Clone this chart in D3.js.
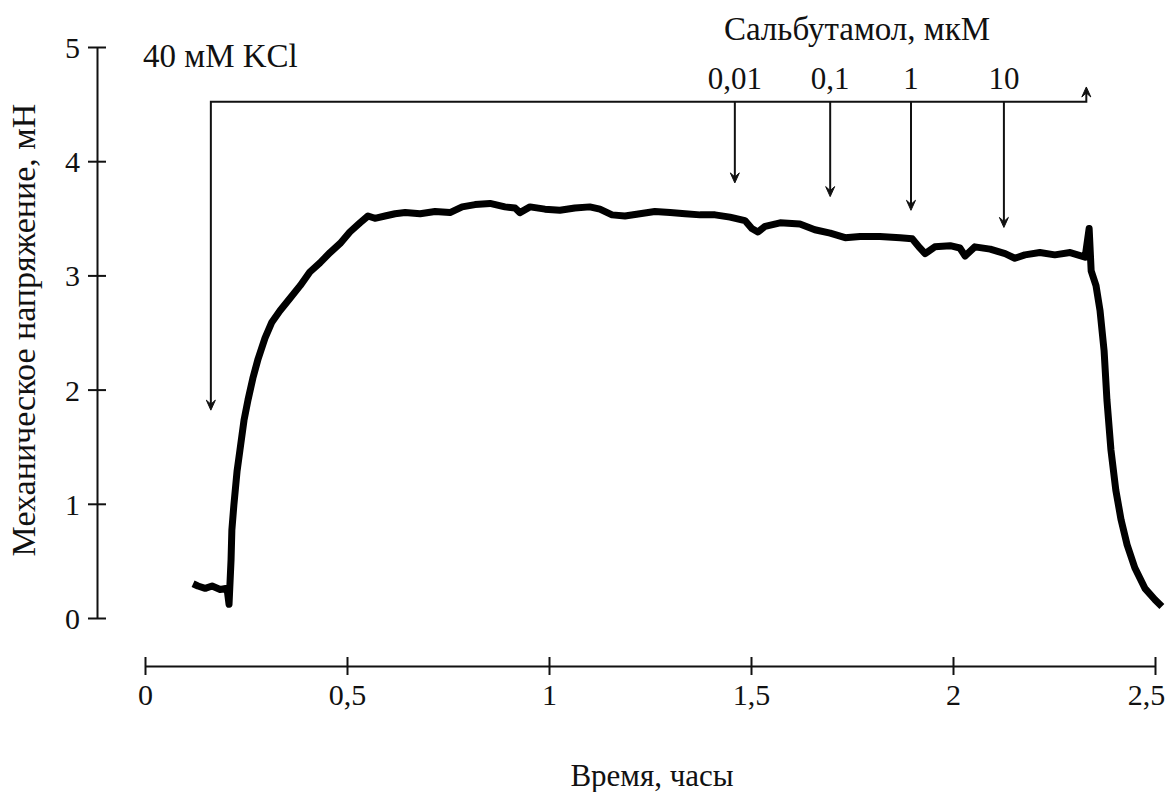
<!DOCTYPE html>
<html lang="ru">
  <head>
    <meta charset="UTF-8" />
    <title>Сальбутамол, KCl</title>
    <script src="https://d3js.org/d3.v7.min.js"></script>
    <style>
      body {
        margin: 0;
        background: #fff;
      }
      svg {
        display: block;
        font-family: "Liberation Serif", "DejaVu Serif", serif;
      }
      .axis path,
      .axis line {
        stroke: #111;
        stroke-width: 2;
      }
      .axis text {
        font-size: 30px;
        fill: #111;
        font-family: "Liberation Serif", serif;
      }
      .label {
        font-size: 33px;
        fill: #111;
      }
    </style>
  </head>
  <body>
    <svg width="1173" height="792"></svg>
    <script>
      // время, часы
      const timeH = [
        0.119, 0.131, 0.149, 0.166, 0.186, 0.203, 0.208, 0.213, 0.215, 0.22,
        0.228, 0.235, 0.245, 0.255, 0.267, 0.28, 0.297, 0.314, 0.334, 0.359,
        0.384, 0.408, 0.433, 0.458, 0.483, 0.507, 0.532, 0.552, 0.569, 0.594,
        0.619, 0.644, 0.681, 0.718, 0.755, 0.785, 0.817, 0.854, 0.891, 0.916,
        0.928, 0.953, 0.99, 1.027, 1.064, 1.101, 1.126, 1.156, 1.188, 1.225,
        1.262, 1.3, 1.337, 1.374, 1.411, 1.448, 1.485, 1.502, 1.517, 1.535,
        1.572, 1.621, 1.658, 1.696, 1.733, 1.77, 1.819, 1.869, 1.899, 1.918,
        1.931, 1.955, 1.993, 2.017, 2.03, 2.054, 2.092, 2.129, 2.153, 2.178,
        2.215, 2.252, 2.29, 2.327, 2.337, 2.342, 2.354, 2.364, 2.374, 2.381,
        2.391, 2.403, 2.416, 2.431, 2.45, 2.475, 2.5, 2.517
      ];
      // механическое напряжение, мН
      const tension = [
        0.3, 0.28, 0.26, 0.28, 0.25, 0.26, 0.12, 0.51, 0.77, 0.99,
        1.29, 1.47, 1.73, 1.91, 2.1, 2.27, 2.45, 2.59, 2.69, 2.8,
        2.91, 3.03, 3.11, 3.2, 3.28, 3.38, 3.46, 3.52, 3.5, 3.52,
        3.54, 3.55, 3.54, 3.56, 3.55, 3.6, 3.62, 3.63, 3.6, 3.59,
        3.55, 3.6, 3.58, 3.57, 3.59, 3.6, 3.58, 3.53, 3.52, 3.54,
        3.56, 3.55, 3.54, 3.53, 3.53, 3.51, 3.48, 3.41, 3.38, 3.43,
        3.46, 3.45, 3.4, 3.37, 3.33, 3.34, 3.34, 3.33, 3.32, 3.24,
        3.19, 3.25, 3.26, 3.24, 3.17, 3.25, 3.23, 3.19, 3.15, 3.18,
        3.2, 3.18, 3.2, 3.16, 3.41, 3.04, 2.91, 2.69, 2.34, 1.91,
        1.47, 1.12, 0.86, 0.64, 0.44, 0.26, 0.16, 0.1
      ];

      // добавки сальбутамола
      const doseLabels = ["0,01", "0,1", "1", "10"];
      const doseTimes = [1.46, 1.696, 1.896, 2.126];
      const doseTips = [3.81, 3.69, 3.57, 3.42];

      // KCl
      const kclTime = 0.163;
      const kclTip = 1.82;
      const bracketLevel = 4.52;
      const washTime = 2.33;
      const washTop = 4.65;

      const xTicks = [0, 0.5, 1, 1.5, 2, 2.5];
      const xTickLabels = ["0", "0,5", "1", "1,5", "2", "2,5"];
      const yTicks = [0, 1, 2, 3, 4, 5];

      const svg = d3.select("svg");

      const x = d3.scaleLinear().domain([0, 2.5]).range([145, 1155]);
      const y = d3.scaleLinear().domain([0, 5]).range([618, 47]);

      // Y axis
      const yAxis = svg
        .append("g")
        .attr("class", "axis")
        .attr("transform", "translate(97,0)")
        .call(
          d3
            .axisLeft(y)
            .tickValues(yTicks)
            .tickFormat(d3.format("d"))
            .tickSize(9)
            .tickSizeOuter(0)
        );
      yAxis.selectAll(".tick line").attr("x1", 9);
      yAxis.selectAll(".tick text").attr("x", -17).attr("dy", "0.35em");

      // X axis (separate line below)
      const xAxis = svg
        .append("g")
        .attr("class", "axis")
        .attr("transform", "translate(0,666)")
        .call(
          d3
            .axisBottom(x)
            .tickValues(xTicks)
            .tickFormat((d, i) => xTickLabels[i])
            .tickSize(9)
            .tickSizeOuter(0)
        );
      xAxis.selectAll(".tick line").attr("y1", -9);
      xAxis
        .selectAll(".tick text")
        .attr("y", 39)
        .attr("dy", 0)
        .attr("dx", (d) => (d === 2.5 ? -9 : 0));

      // Axis titles
      svg
        .append("text")
        .attr("class", "label")
        .style("font-size", "34px")
        .attr("transform", "translate(35,330) rotate(-90)")
        .attr("text-anchor", "middle")
        .text("Механическое напряжение, мН");

      svg
        .append("text")
        .attr("class", "label")
        .style("font-size", "31px")
        .attr("x", 652)
        .attr("y", 786)
        .attr("text-anchor", "middle")
        .text("Время, часы");

      // Trace
      const line = d3
        .line()
        .x((d, i) => x(timeH[i]))
        .y((d) => y(d));

      svg
        .append("path")
        .datum(tension)
        .attr("d", line)
        .attr("fill", "none")
        .attr("stroke", "#000")
        .attr("stroke-width", 7)
        .attr("stroke-linejoin", "round");

      // arrowhead helper
      function head(px, py, dir) {
        // dir = 1 down, -1 up
        const h = 10 * dir;
        return `M${px},${py} L${px - 4.5},${py - h} L${px},${py - h * 0.6} L${px + 4.5},${py - h} Z`;
      }

      const ann = svg.append("g").attr("stroke", "#111").attr("stroke-width", 2);

      // bracket
      ann
        .append("path")
        .attr("fill", "none")
        .attr(
          "d",
          `M${x(kclTime)},${y(kclTip) - 4} L${x(kclTime)},${y(bracketLevel)} L${x(washTime)},${y(bracketLevel)} L${x(washTime)},${y(washTop) + 4}`
        );
      ann.append("path").attr("fill", "#111").attr("stroke-width", 1).attr("d", head(x(kclTime), y(kclTip), 1));
      ann.append("path").attr("fill", "#111").attr("stroke-width", 1).attr("d", head(x(washTime), y(washTop), -1));

      doseTimes.forEach((t, i) => {
        ann
          .append("line")
          .attr("x1", x(t))
          .attr("x2", x(t))
          .attr("y1", y(bracketLevel))
          .attr("y2", y(doseTips[i]) - 4);
        ann.append("path").attr("fill", "#111").attr("stroke-width", 1).attr("d", head(x(t), y(doseTips[i]), 1));
        svg
          .append("text")
          .attr("class", "label")
          .style("font-size", "31px")
          .attr("x", x(t))
          .attr("y", y(bracketLevel) - 13)
          .attr("text-anchor", "middle")
          .text(doseLabels[i]);
      });

      svg
        .append("text")
        .attr("class", "label")
        .attr("x", 857)
        .attr("y", 40)
        .attr("text-anchor", "middle")
        .text("Сальбутамол, мкМ");

      svg
        .append("text")
        .attr("class", "label")
        .attr("x", 143)
        .attr("y", 67)
        .text("40 мМ KCl");
    </script>
  </body>
</html>
